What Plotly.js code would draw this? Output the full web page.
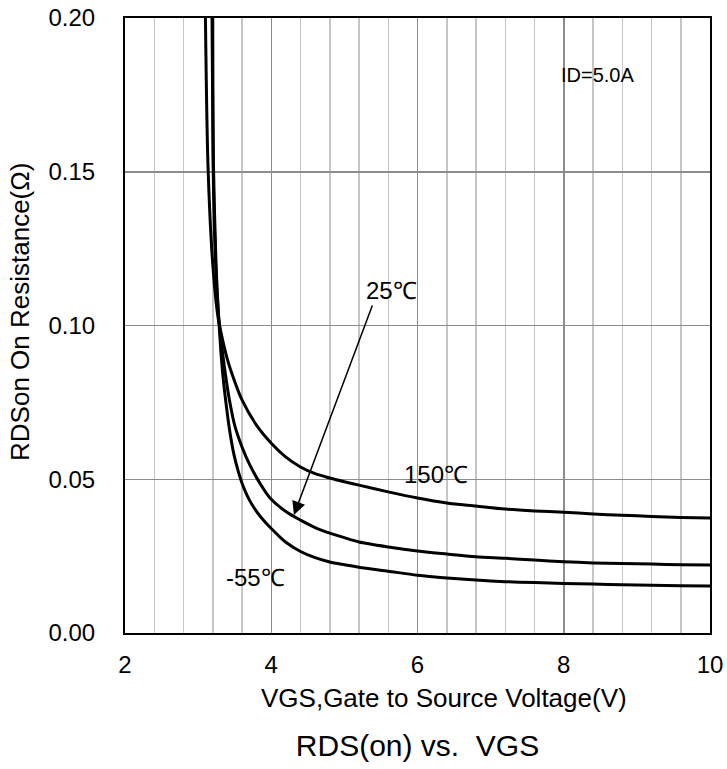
<!DOCTYPE html>
<html>
<head>
<meta charset="utf-8">
<script src="https://cdn.plot.ly/plotly-3.0.1.min.js"></script>
<style>html,body{margin:0;padding:0;background:#fff;}#chart{width:727px;height:769px;}</style>
</head>
<body>
<div id="chart"></div>
<script>
// Data (VGS in V, RDS(on) in ohm)
var vgs150 = [3.10, 3.135, 3.20, 3.27, 3.31, 3.40, 3.50, 3.60, 3.80, 4.00, 4.20, 4.40, 4.60, 4.80, 5.00, 5.20, 5.60, 6.00, 6.40, 6.80, 7.20, 7.60, 8.00, 8.40, 8.80, 9.20, 9.60, 10.0];
var r150   = [0.200, 0.152, 0.120, 0.103, 0.098, 0.089, 0.0818, 0.0758, 0.0675, 0.0617, 0.0572, 0.0540, 0.0518, 0.0504, 0.0492, 0.0481, 0.0459, 0.0439, 0.0423, 0.0413, 0.0403, 0.0397, 0.0393, 0.0387, 0.0383, 0.0379, 0.0376, 0.0374];

var vgs25 = [3.19, 3.205, 3.24, 3.28, 3.33, 3.38, 3.43, 3.50, 3.60, 3.71, 3.85, 3.98, 4.20, 4.40, 4.60, 4.80, 5.00, 5.20, 5.60, 6.00, 6.40, 6.80, 7.20, 7.60, 8.00, 8.40, 8.80, 9.20, 9.60, 10.0];
var r25   = [0.200, 0.152, 0.120, 0.103, 0.092, 0.083, 0.0755, 0.0675, 0.0605, 0.0545, 0.0485, 0.0440, 0.0395, 0.0367, 0.0343, 0.0325, 0.0310, 0.0296, 0.0280, 0.0267, 0.0257, 0.0248, 0.0243, 0.0237, 0.0232, 0.0228, 0.0226, 0.0224, 0.0222, 0.0221];

var vgsM55 = [3.20, 3.21, 3.245, 3.28, 3.31, 3.34, 3.38, 3.43, 3.49, 3.55, 3.62, 3.70, 3.80, 3.90, 4.00, 4.20, 4.40, 4.60, 4.80, 5.00, 5.20, 5.60, 6.00, 6.40, 6.80, 7.20, 7.60, 8.00, 8.40, 8.80, 9.20, 9.60, 10.0];
var rM55   = [0.200, 0.152, 0.120, 0.103, 0.092, 0.0835, 0.075, 0.066, 0.058, 0.0525, 0.0475, 0.0433, 0.0395, 0.0365, 0.0340, 0.0295, 0.0265, 0.0245, 0.0231, 0.0222, 0.0214, 0.0201, 0.0188, 0.0179, 0.0172, 0.0167, 0.0164, 0.0161, 0.0159, 0.0157, 0.0155, 0.0154, 0.0153];

var xTicks = [2, 4, 6, 8, 10];
var yTicks = [0, 0.05, 0.10, 0.15, 0.20];
var yTickText = ['0.00', '0.05', '0.10', '0.15', '0.20'];

var seriesNames = ['150℃', '25℃', '-55℃'];

var FONT = 'Liberation Sans, Arial, sans-serif';

function curve(x, y, name) {
  return {
    x: x, y: y, name: name, type: 'scatter', mode: 'lines',
    line: {color: '#000', width: 3, shape: 'spline', smoothing: 0.8},
    hoverinfo: 'skip', showlegend: false
  };
}

var data = [
  curve(vgs150, r150, seriesNames[0]),
  curve(vgs25, r25, seriesNames[1]),
  curve(vgsM55, rM55, seriesNames[2])
];

function txt(x, y, text, size, xref, yref, angle) {
  return {x: x, y: y, xref: xref || 'x', yref: yref || 'y', text: text, showarrow: false,
          textangle: angle || 0, xanchor: 'center', yanchor: 'middle',
          font: {family: FONT, size: size, color: '#000'}};
}

var layout = {
  width: 727, height: 769,
  margin: {l: 125, r: 17, t: 18, b: 136},
  paper_bgcolor: '#fff', plot_bgcolor: '#fff',
  font: {family: FONT, size: 24, color: '#000'},
  showlegend: false,
  title: {text: 'RDS(on) vs.\u00a0 VGS', font: {family: FONT, size: 30, color: '#000'},
          xref: 'paper', x: 0.5, xanchor: 'center', yref: 'container', y: 0.031, yanchor: 'middle'},
  xaxis: {
    range: [2, 10], tickvals: xTicks, ticktext: xTicks.map(String),
    showgrid: true, gridcolor: '#8c8c8c', gridwidth: 1.5,
    minor: {dtick: 0.4, tick0: 2, showgrid: true, gridcolor: '#c6c6c6', gridwidth: 1.5, ticks: ''},
    showline: true, linecolor: '#000', linewidth: 2, mirror: true,
    ticks: '', zeroline: false, ticklabelstandoff: 9,
    tickfont: {family: FONT, size: 24, color: '#000'}
  },
  yaxis: {
    range: [0, 0.20], tickvals: yTicks, ticktext: yTickText,
    showgrid: true, gridcolor: '#8c8c8c', gridwidth: 1.5,
    showline: true, linecolor: '#000', linewidth: 2, mirror: true,
    ticks: '', zeroline: false, ticklabelstandoff: 23,
    tickfont: {family: FONT, size: 24, color: '#000'}
  },
  annotations: [
    // axis titles
    txt(0.545, -0.1057, 'VGS,Gate to Source Voltage(V)', 26, 'paper', 'paper'),
    txt(-0.1795, 0.522, 'RDSon On Resistance(Ω)', 26, 'paper', 'paper', -90),
    // in-plot labels
    txt(8.455, 0.1815, 'ID=5.0A', 20),
    txt(5.65, 0.1115, seriesNames[1], 24),
    txt(6.25, 0.0514, seriesNames[0], 24),
    txt(3.78, 0.0179, seriesNames[2], 24),
    {x: 4.31, y: 0.0384, xref: 'x', yref: 'y', ax: 5.39, ay: 0.107, axref: 'x', ayref: 'y',
     text: '', showarrow: true, arrowhead: 2, arrowsize: 1.8, arrowwidth: 1.5, arrowcolor: '#000'}
  ]
};

Plotly.newPlot('chart', data, layout, {staticPlot: true, displayModeBar: false});
</script>
</body>
</html>
